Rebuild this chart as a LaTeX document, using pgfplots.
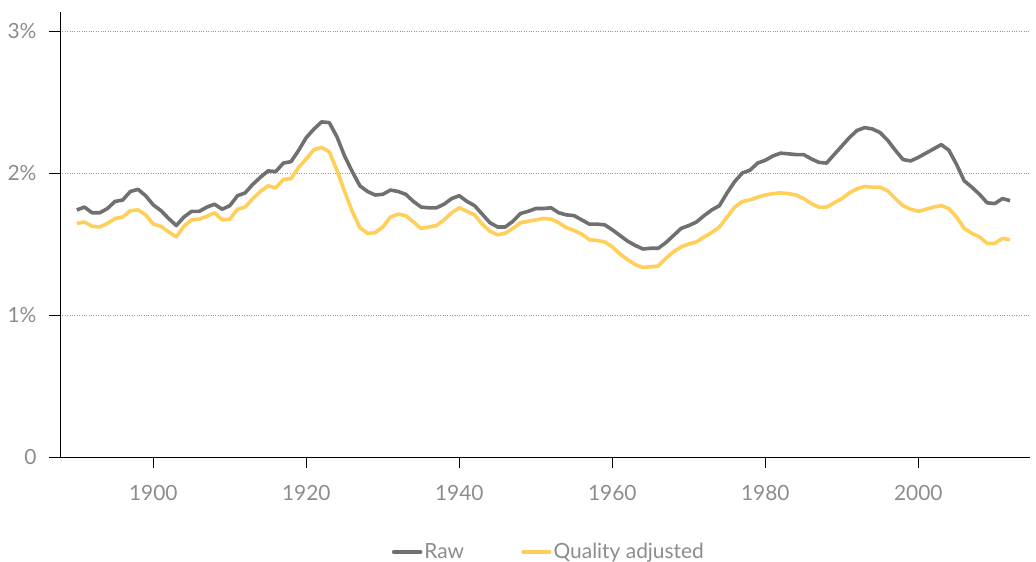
\documentclass[border=0pt]{standalone}
\usepackage{pgfplots}
\usepackage{pgfplotstable}
\pgfplotsset{compat=1.18}
\usepackage{fontspec}
\setmainfont{Lato}
\definecolor{rawc}{HTML}{707070}
\definecolor{qac}{HTML}{FFCF5A}
\definecolor{txt}{HTML}{8C8C8C}
\pgfplotstableread{
year raw qa
1890 1.74 1.645
1891 1.76 1.655
1892 1.72 1.625
1893 1.72 1.62
1894 1.75 1.645
1895 1.80 1.68
1896 1.81 1.69
1897 1.87 1.735
1898 1.885 1.74
1899 1.84 1.705
1900 1.775 1.64
1901 1.735 1.625
1902 1.68 1.585
1903 1.63 1.55
1904 1.69 1.625
1905 1.73 1.67
1906 1.73 1.675
1907 1.76 1.695
1908 1.78 1.72
1909 1.745 1.67
1910 1.77 1.675
1911 1.84 1.745
1912 1.86 1.76
1913 1.92 1.82
1914 1.97 1.87
1915 2.015 1.91
1916 2.01 1.895
1917 2.07 1.955
1918 2.08 1.96
1919 2.16 2.04
1920 2.25 2.10
1921 2.31 2.165
1922 2.36 2.18
1923 2.355 2.15
1924 2.255 2.02
1925 2.12 1.87
1926 2.01 1.73
1927 1.91 1.615
1928 1.87 1.575
1929 1.845 1.58
1930 1.85 1.62
1931 1.88 1.69
1932 1.87 1.71
1933 1.85 1.70
1934 1.80 1.655
1935 1.76 1.61
1936 1.755 1.62
1937 1.755 1.63
1938 1.78 1.67
1939 1.82 1.72
1940 1.84 1.755
1941 1.80 1.73
1942 1.77 1.705
1943 1.71 1.64
1944 1.65 1.59
1945 1.62 1.565
1946 1.62 1.575
1947 1.66 1.61
1948 1.715 1.65
1949 1.73 1.66
1950 1.75 1.67
1951 1.75 1.68
1952 1.755 1.675
1953 1.72 1.65
1954 1.705 1.615
1955 1.70 1.595
1956 1.67 1.57
1957 1.64 1.53
1958 1.64 1.525
1959 1.635 1.515
1960 1.60 1.48
1961 1.56 1.43
1962 1.52 1.39
1963 1.49 1.355
1964 1.465 1.335
1965 1.47 1.34
1966 1.47 1.345
1967 1.51 1.40
1968 1.56 1.445
1969 1.61 1.48
1970 1.63 1.50
1971 1.655 1.515
1972 1.70 1.55
1973 1.74 1.58
1974 1.77 1.62
1975 1.86 1.69
1976 1.94 1.76
1977 2.00 1.80
1978 2.02 1.81
1979 2.07 1.83
1980 2.09 1.845
1981 2.12 1.855
1982 2.14 1.86
1983 2.135 1.855
1984 2.13 1.845
1985 2.13 1.82
1986 2.10 1.785
1987 2.075 1.76
1988 2.07 1.76
1989 2.13 1.79
1990 2.19 1.82
1991 2.25 1.86
1992 2.30 1.89
1993 2.32 1.905
1994 2.31 1.90
1995 2.285 1.90
1996 2.23 1.875
1997 2.16 1.82
1998 2.095 1.77
1999 2.085 1.745
2000 2.11 1.73
2001 2.14 1.745
2002 2.17 1.76
2003 2.20 1.77
2004 2.16 1.75
2005 2.06 1.69
2006 1.945 1.61
2007 1.90 1.575
2008 1.85 1.55
2009 1.79 1.505
2010 1.785 1.505
2011 1.82 1.54
2012 1.805 1.53
}\datatable
\begin{document}
\begin{tikzpicture}
\begin{axis}[
  scale only axis, width=970bp, height=445bp,
  xmin=1887.8, xmax=2014.6, ymin=0, ymax=3.134,
  axis lines=left, axis line style={-, black, line width=0.9bp},
  xtick={1900,1920,...,2000}, ytick={0,1,2,3},
  yticklabels={0,1\%,2\%,3\%},
  xticklabel style={/pgf/number format/1000 sep={}, yshift=-14bp},
  yticklabel style={xshift=-9bp},
  /pgf/number format/assume math mode=true,
  tick align=outside, major tick length=11bp,
  tick style={black, line width=0.9bp},
  ticklabel style={font=\fontsize{21}{25}\selectfont, text=txt},
  ymajorgrids, grid style={dotted, black!40, line width=0.7bp},
  legend style={at={(0.504,-0.2135)}, anchor=center, draw=none, fill=none,
    font=\fontsize{21}{25}\selectfont, text=txt,
    /tikz/every even column/.append style={column sep=55bp}},
  legend columns=2,
  legend image code/.code={\draw[#1, line width=4.5bp, line cap=round] (0bp,0bp) -- (26bp,0bp);},
]
\addplot[rawc, line width=3.6bp, line join=round] table[x=year, y=raw] {\datatable};
\addlegendentry{Raw}
\addplot[qac, line width=3.6bp, line join=round] table[x=year, y=qa] {\datatable};
\addlegendentry{Quality adjusted}
\end{axis}
\pgfresetboundingbox
\path[use as bounding box] (-60bp,-105bp) rectangle (976bp,457bp);
\end{tikzpicture}
\end{document}
